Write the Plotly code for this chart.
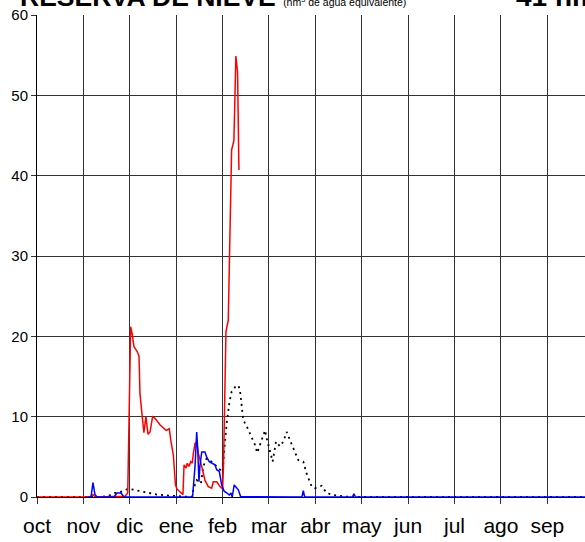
import plotly.graph_objects as go

months = ["oct", "nov", "dic", "ene", "feb", "mar", "abr", "may", "jun", "jul", "ago", "sep"]
month_len = 365 / 12

# current season (red)
red_day = [0, 34.7, 36.7, 38.0, 57.7, 59.5, 61.4, 62.5, 63.6, 65.7, 66.9, 67.5, 69.0, 70.1, 71.4, 72.8, 74.1,
           75.8, 77.4, 80.6, 84.6, 86.7, 87.8, 89.4, 90.8, 91.8, 92.8, 94.7, 95.7, 96.4, 97.7, 98.5, 99.6,
           100.8, 101.8, 102.5, 103.6, 104.7, 105.7, 108.0, 110.1, 112.3, 114.5, 115.6, 117.8, 120.0, 121.7,
           122.3, 123.2, 123.9, 125.4, 126.5, 127.6, 129.1, 130.4, 131.5, 132.4]
red_val = [0, 0, 0.3, 0, 0.1, 0.5, 21.2, 20.2, 18.7, 18.1, 17.5, 12.9, 10.0, 8.0, 10.0, 7.8, 8.1,
           10.0, 9.8, 9.0, 8.3, 8.5, 7.0, 5.2, 1.5, 1.0, 0.8, 0.5, 0.3, 4.0, 3.6, 4.2, 3.8,
           4.4, 4.2, 5.4, 6.7, 6.8, 5.5, 3.8, 2.1, 1.3, 1.1, 1.9, 1.9, 1.3, 1.0,
           4.0, 15.4, 20.6, 22.0, 33.0, 43.2, 44.4, 54.9, 52.9, 40.7]

# previous season (blue)
blue_day = [33, 35.4, 36.7, 38.0, 39.3, 50.5, 52.4, 55.1, 57.0, 102.0, 103.6, 104.7, 105.4, 106.2, 106.8,
            108.0, 110.1, 111.2, 112.9, 116.7, 117.8, 119.5, 121.1, 122.8, 124.4, 126.1, 127.2, 128.0,
            129.3, 130.9, 132.0, 133.5, 173.7, 174.6, 175.5, 206.8, 207.8, 208.8, 365]
blue_val = [0, 0, 1.8, 0.3, 0, 0, 0.5, 0.5, 0, 0, 3.8, 8.1, 5.9, 1.9, 3.8,
            5.6, 5.6, 5.0, 4.4, 4.0, 3.4, 3.2, 1.5, 0.7, 0.5, 0.25, 0.5, 0,
            1.5, 1.2, 0.9, 0.05, 0, 0.8, 0, 0, 0.4, 0, 0]

# mean (black dotted)
avg_day = [0, 41.3, 46.5, 51.1, 54.4, 58.8, 61.0, 65.4, 71.9, 78.5, 85.0, 91.6, 101.4, 102.9, 104.7, 106.4,
           107.5, 109.0, 111.2, 114.5, 117.8, 120.0, 121.7, 122.6, 123.2, 124.4, 126.1, 127.6, 129.9, 132.0,
           133.1, 134.2, 135.2, 137.5, 140.7, 142.9, 144.4, 146.6, 149.5, 150.6, 152.3, 154.5, 156.7, 159.3,
           161.5, 163.7, 165.8, 168.0, 171.3, 174.6, 176.8, 180.1, 182.2, 186.6, 189.9, 194.2, 200.8, 205.2, 365]
avg_val = [0, 0, 0.1, 0.5, 0.6, 0.95, 1.0, 0.8, 0.6, 0.3, 0.2, 0.1, 0, 1.2, 2.1, 1.9,
           1.7, 3.8, 4.8, 4.4, 3.8, 3.4, 3.1, 5.5, 6.9, 9.2, 11.7, 13.1, 13.7, 13.9,
           13.3, 11.7, 9.6, 8.8, 7.5, 6.5, 5.5, 6.7, 8.3, 7.3, 6.1, 4.4, 6.9, 6.3,
           6.9, 8.1, 7.1, 6.1, 4.6, 4.4, 2.9, 1.3, 1.1, 1.4, 0.5, 0.25, 0.05, 0, 0]

y_ticks = [0, 10, 20, 30, 40, 50, 60]

FONT = "Liberation Sans, Arial, sans-serif"

fig = go.Figure()
fig.add_trace(go.Scatter(x=avg_day, y=avg_val, mode="lines",
                         line=dict(color="black", width=1.8, dash="2px,4px"), hoverinfo="skip"))
fig.add_trace(go.Scatter(x=red_day, y=red_val, mode="lines",
                         line=dict(color="#ff0000", width=1.5), hoverinfo="skip"))
fig.add_trace(go.Scatter(x=blue_day, y=blue_val, mode="lines",
                         line=dict(color="#0000ff", width=1.5), hoverinfo="skip"))

fig.update_layout(
    width=585, height=542,
    margin=dict(l=37, r=0, t=15, b=45, autoexpand=False),
    paper_bgcolor="white", plot_bgcolor="white",
    showlegend=False,
    font=dict(family=FONT, color="black"),
    xaxis=dict(
        range=[0, 359.3],
        tickmode="array",
        tickvals=[i * month_len for i in range(12)],
        ticktext=months,
        showgrid=True, gridcolor="#333333", gridwidth=1,
        ticks="outside", ticklen=6, tickcolor="#333333",
        tickfont=dict(size=21, family=FONT, color="black"),
        ticklabelstandoff=4,
        zeroline=False, showline=True, linecolor="black", linewidth=1,
        fixedrange=True,
    ),
    yaxis=dict(
        range=[0, 60],
        tickmode="array", tickvals=y_ticks,
        showgrid=True, gridcolor="#333333", gridwidth=1,
        ticks="outside", ticklen=5, tickcolor="#333333",
        tickfont=dict(size=15, family=FONT, color="black"),
        zeroline=False, showline=True, linecolor="black", linewidth=1,
        fixedrange=True,
    ),
)

fig.add_annotation(xref="paper", yref="paper", x=-0.035, y=1.0, xanchor="left", yanchor="bottom",
                   yshift=1, showarrow=False,
                   text="<b>RESERVA DE NIEVE</b> <span style='font-size:10.5px'>(hm<sup>3</sup> de agua equivalente)</span>",
                   font=dict(size=26.5, family=FONT, color="black"))
fig.add_annotation(xref="paper", yref="paper", x=1.0, y=1.0, xanchor="right", yanchor="bottom",
                   yshift=1, xshift=14, showarrow=False,
                   text="<b>41 hm</b>", font=dict(size=28, family=FONT, color="black"))

fig.write_html("out.html", post_script="document.body.style.margin='0';",
               config={"displayModeBar": False})
